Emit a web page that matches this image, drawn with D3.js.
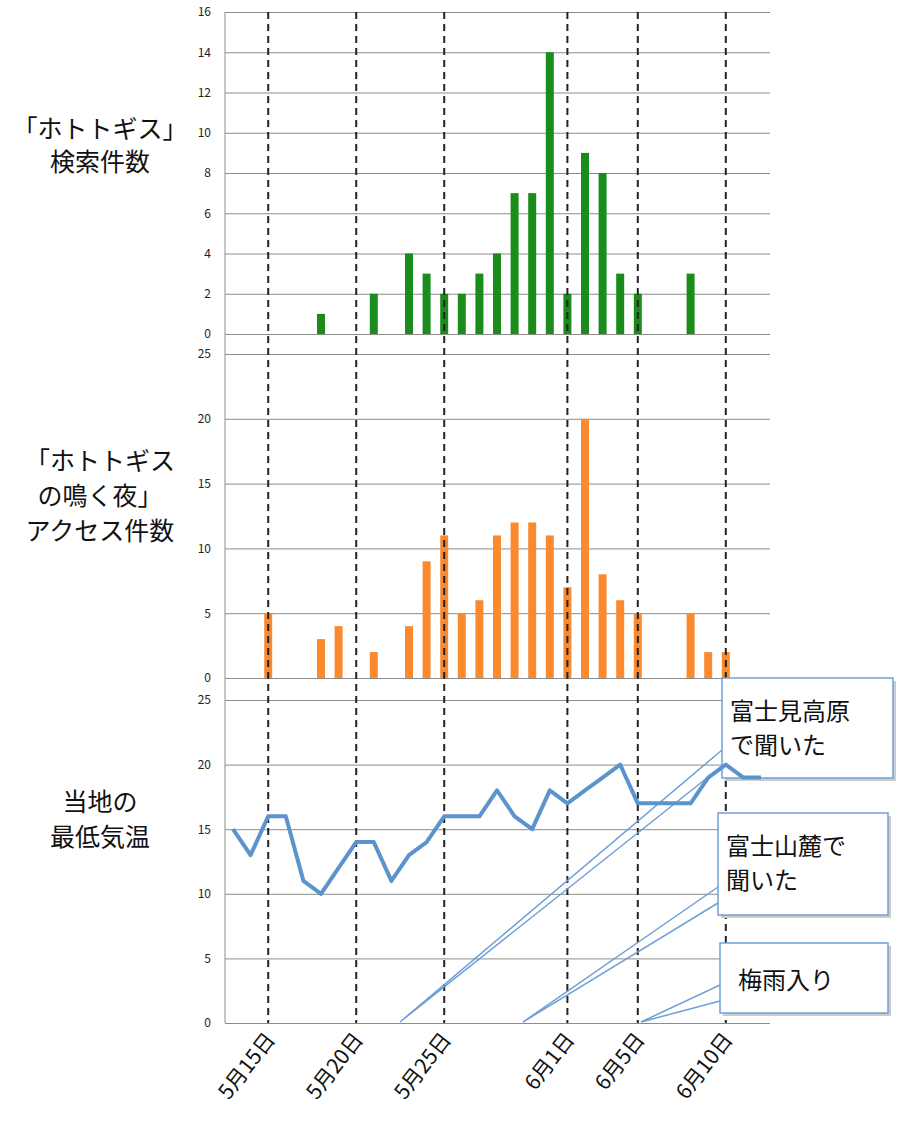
<![CDATA[<!DOCTYPE html>
<html><head><meta charset="utf-8">
<script src="https://cdn.jsdelivr.net/npm/d3@7"></script>
<style>body{margin:0;background:#fff}text{font-family:"Noto Sans CJK JP",sans-serif}</style>
</head><body><svg id="c" width="900" height="1144"></svg>
<script>
// day index 0 = 5月13日
const searchDays=[5,8,10,11,12,13,14,15,16,17,18,19,20,21,22,23,26];
const searchVals=[1,2,4,3,2,2,3,4,7,7,14,2,9,8,3,2,3];
const accessDays=[2,5,6,8,10,11,12,13,14,15,16,17,18,19,20,21,22,23,26,27,28];
const accessVals=[5,3,4,2,4,9,11,5,6,11,12,12,11,7,20,8,6,5,5,2,2];
const tempVals=[15,13,16,16,11,10,12,14,14,11,13,14,16,16,16,18,16,15,18,17,18,19,20,17,17,17,17,19,20,19,19];
const tickDays=[2,7,12,19,23,28];
const tickLabels=["5月15日","5月20日","5月25日","6月1日","6月5日","6月10日"];
const panelTitles=[["「ホトトギス」","検索件数"],["「ホトトギス","の鳴く夜」","アクセス件数"],["当地の","最低気温"]];
const callouts=[{t:["富士見高原","で聞いた"]},{t:["富士山麓で","聞いた"]},{t:["梅雨入り"]}];

const svg=d3.select("#c");
const x=d3.scaleLinear().domain([0,1]).range([233,250.6]);
const panels=[
 {y0:334,y1:12,max:16,step:2},
 {y0:678,y1:354,max:25,step:5},
 {y0:1023,y1:700,max:25,step:5}];
const ys=panels.map(p=>d3.scaleLinear().domain([0,p.max]).range([p.y0,p.y1]));
panels.forEach((p,i)=>{
  const ax=d3.axisLeft(ys[i]).tickValues(d3.range(0,p.max+0.1,p.step)).tickSize(-545).tickPadding(14);
  const g=svg.append("g").attr("transform","translate(225,0)").call(ax);
  g.select(".domain").remove();
  g.selectAll(".tick line").attr("stroke","#8c8c8c");
  g.selectAll(".tick text").attr("font-size",12).attr("font-family","Liberation Sans,Arial").attr("fill","#222");
});
svg.append("line").attr("x1",225).attr("x2",225).attr("y1",12).attr("y2",1023).attr("stroke","#8c8c8c");
svg.selectAll(".g").data(searchDays).join("rect").attr("x",d=>x(d)-4).attr("width",8)
 .attr("y",(d,i)=>ys[0](searchVals[i])).attr("height",(d,i)=>ys[0](0)-ys[0](searchVals[i])).attr("fill","#1a8c1a");
svg.selectAll(".o").data(accessDays).join("rect").attr("x",d=>x(d)-4).attr("width",8)
 .attr("y",(d,i)=>ys[1](accessVals[i])).attr("height",(d,i)=>ys[1](0)-ys[1](accessVals[i])).attr("fill","#fb8a2e");
svg.selectAll(".dl").data(tickDays).join("line").attr("x1",d=>x(d)).attr("x2",d=>x(d))
 .attr("y1",12).attr("y2",1023).attr("stroke","#222").attr("stroke-width",2).attr("stroke-dasharray","7,5");
svg.selectAll(".xl").data(tickDays).join("text").attr("text-anchor","end").attr("font-size",21).attr("fill","#111")
 .attr("transform",d=>`translate(${x(d)+8},${1040}) rotate(-52)`).text((d,i)=>tickLabels[i]);
const tpos=[[130,163],[462,497,532],[803,838]];
panelTitles.forEach((lines,i)=>lines.forEach((s,j)=>svg.append("text").attr("x",100).attr("y",tpos[i][j]+8)
 .attr("text-anchor","middle").attr("font-size",25).attr("fill","#111").text(s)));
const boxes=[{x:722,y:678,w:171,h:100},{x:718,y:813,w:170,h:102},{x:720,y:943,w:168,h:70}];
const tips=[400,523,641];
callouts.forEach((c,i)=>{
  const b=boxes[i];
  svg.append("path").attr("d",`M${b.x},${b.y+b.h-28}L${tips[i]},1022L${b.x},${b.y+b.h-12}`)
   .attr("fill","none").attr("stroke","#6fa0d6").attr("stroke-width",1.5);
  svg.append("rect").attr("x",b.x+3).attr("y",b.y+3).attr("width",b.w).attr("height",b.h).attr("fill","#ccc");
  svg.append("rect").attr("x",b.x).attr("y",b.y).attr("width",b.w).attr("height",b.h).attr("fill","#fff")
   .attr("stroke","#6fa0d6").attr("stroke-width",1.5);
  c.t.forEach((s,j)=>svg.append("text").attr("x",i==2?b.x+18:b.x+8).attr("y",b.y+(i==2?46:42)+j*34)
   .attr("font-size",24).attr("fill","#111").text(s));
});
svg.append("path").datum(tempVals).attr("fill","none").attr("stroke","#5b93cd").attr("stroke-width",4)
 .attr("stroke-linejoin","round").attr("d",d3.line().x((d,i)=>x(i)).y(d=>ys[2](d)));
</script></body></html>]]>
